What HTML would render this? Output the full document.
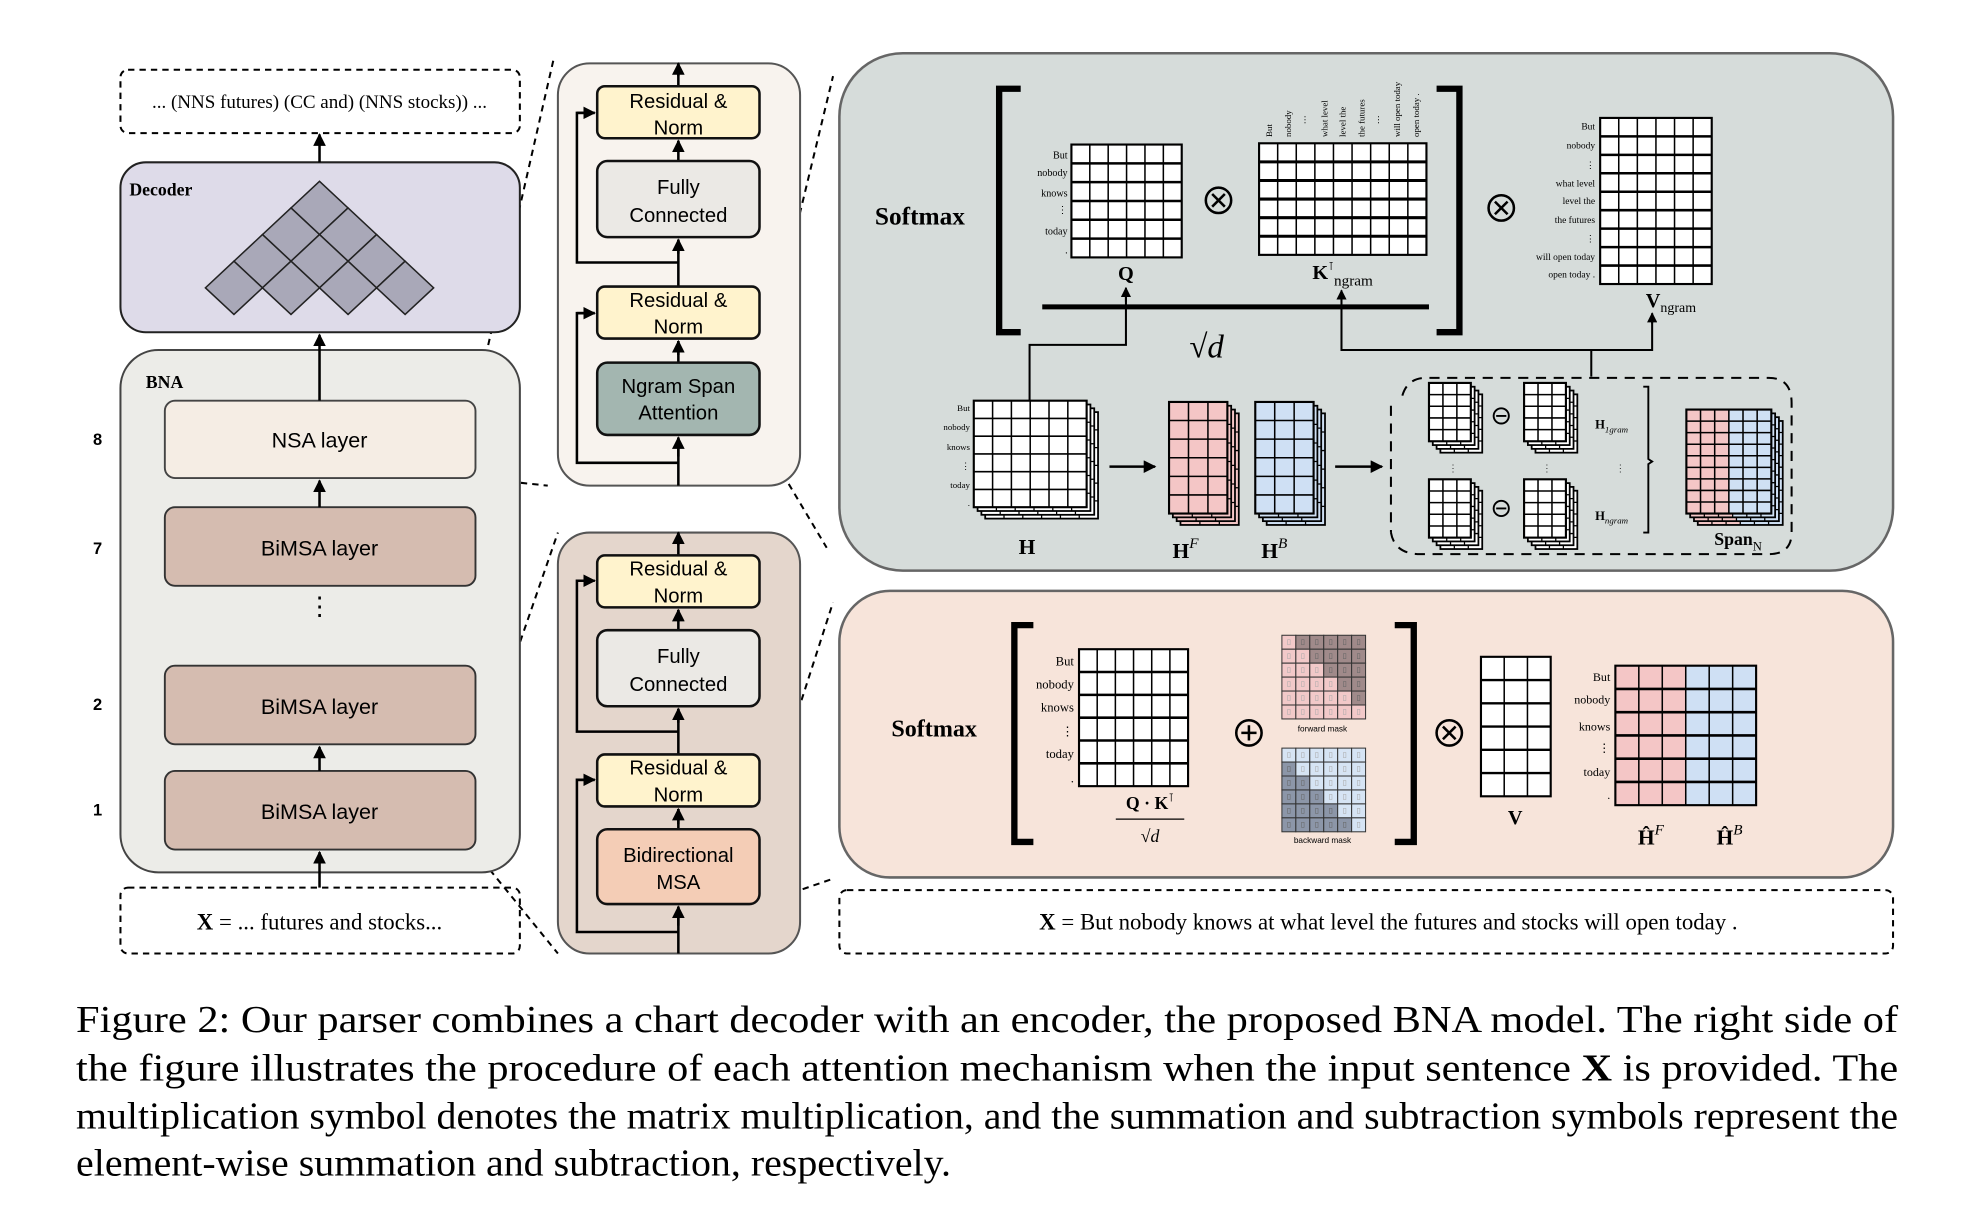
<!DOCTYPE html>
<html><head><meta charset="utf-8"><style>
html,body{margin:0;padding:0;background:#fff;}
svg{display:block;}
.s{font-family:"Liberation Sans",sans-serif;}
.r{font-family:"Liberation Serif",serif;}
</style></head><body>
<svg id="c" width="1978" height="1216" viewBox="0 0 1560 959" preserveAspectRatio="none" xmlns="http://www.w3.org/2000/svg">
<defs>
<marker id="a" viewBox="0 0 10 10" refX="9" refY="5" markerWidth="5" markerHeight="5" orient="auto"><path d="M0,0L10,5L0,10z" fill="#000"/></marker>
</defs>
<rect width="1560" height="959" fill="#fff"/>
<g stroke="#000" stroke-width="1.6" fill="none" stroke-dasharray="5,4">
<line x1="375" y1="316" x2="437" y2="45"/>
<line x1="375" y1="377" x2="432" y2="383"/>
<line x1="375" y1="608" x2="440" y2="420"/>
<line x1="375" y1="672" x2="440" y2="752"/>
<line x1="599" y1="300" x2="657" y2="60"/>
<line x1="599" y1="343" x2="652" y2="432"/>
<line x1="599" y1="655" x2="657" y2="475"/>
<line x1="599" y1="713" x2="657" y2="693"/>
</g>
<!-- left -->
<rect x="95" y="55" width="315" height="50" rx="6" fill="none" stroke="#000" stroke-width="1.6" stroke-dasharray="5,4"/>
<text x="252" y="85" text-anchor="middle" class="r" font-size="15">... (NNS futures) (CC and) (NNS stocks)) ...</text>
<rect x="95" y="128" width="315" height="134" rx="20" fill="#dedbe9" stroke="#222" stroke-width="1.6"/>
<text x="102" y="154" class="r" font-size="14" font-weight="bold">Decoder</text>
<g id="pyr" fill="#a9a8b8" stroke="#222" stroke-width="1.2"></g>
<rect x="95" y="276" width="315" height="412" rx="30" fill="#ecece8" stroke="#444" stroke-width="1.6"/>
<text x="115" y="306" class="r" font-size="14" font-weight="bold">BNA</text>
<rect x="130" y="316" width="245" height="61" rx="8" fill="#f5ede4" stroke="#444" stroke-width="1.5"/>
<text x="252" y="353" text-anchor="middle" class="s" font-size="17">NSA layer</text>
<rect x="130" y="400" width="245" height="62" rx="8" fill="#d5bcb0" stroke="#333" stroke-width="1.5"/>
<text x="252" y="438" text-anchor="middle" class="s" font-size="17">BiMSA layer</text>
<text x="252" y="485" text-anchor="middle" class="s" font-size="20">⋮</text>
<rect x="130" y="525" width="245" height="62" rx="8" fill="#d5bcb0" stroke="#333" stroke-width="1.5"/>
<text x="252" y="563" text-anchor="middle" class="s" font-size="17">BiMSA layer</text>
<rect x="130" y="608" width="245" height="62" rx="8" fill="#d5bcb0" stroke="#333" stroke-width="1.5"/>
<text x="252" y="646" text-anchor="middle" class="s" font-size="17">BiMSA layer</text>
<g class="s" font-size="13" font-weight="bold" text-anchor="middle">
<text x="77" y="351">8</text><text x="77" y="437">7</text><text x="77" y="560">2</text><text x="77" y="643">1</text></g>
<rect x="95" y="700" width="315" height="52" rx="6" fill="none" stroke="#000" stroke-width="1.6" stroke-dasharray="5,4"/>
<text x="252" y="733" text-anchor="middle" class="r" font-size="18"><tspan font-weight="bold">X</tspan> = ... futures and stocks...</text>
<g stroke="#000" stroke-width="2" marker-end="url(#a)">
<line x1="252" y1="128" x2="252" y2="106"/>
<line x1="252" y1="316" x2="252" y2="264"/>
<line x1="252" y1="400" x2="252" y2="379"/>
<line x1="252" y1="608" x2="252" y2="589"/>
<line x1="252" y1="700" x2="252" y2="672"/>
</g>
<!-- middle panels -->
<rect x="440" y="50" width="191" height="333" rx="25" fill="#f8f3ee" stroke="#555" stroke-width="1.6"/>
<rect x="440" y="420" width="191" height="332" rx="25" fill="#e4d6cc" stroke="#555" stroke-width="1.6"/>
<g stroke="#000" stroke-width="2" fill="none">
<path d="M535,383V345M535,286V269M535,226V189M535,127V111M535,68V50"/>
<path d="M535,365H455V247H469M535,207H455V89H469"/>
<path d="M535,752V715M535,654V638M535,595V559M535,497V481M535,438V420"/>
<path d="M535,735H455V615H469M535,577H455V458H469"/>
</g>
<g stroke="#000" stroke-width="2" marker-end="url(#a)">
<line x1="535" y1="360" x2="535" y2="345"/><line x1="535" y1="280" x2="535" y2="269"/><line x1="535" y1="200" x2="535" y2="189"/><line x1="535" y1="120" x2="535" y2="111"/><line x1="535" y1="60" x2="535" y2="50"/>
<line x1="455" y1="247" x2="469" y2="247"/><line x1="455" y1="89" x2="469" y2="89"/>
<line x1="535" y1="730" x2="535" y2="715"/><line x1="535" y1="650" x2="535" y2="638"/><line x1="535" y1="570" x2="535" y2="559"/><line x1="535" y1="490" x2="535" y2="481"/><line x1="535" y1="430" x2="535" y2="420"/>
<line x1="455" y1="615" x2="469" y2="615"/><line x1="455" y1="458" x2="469" y2="458"/>
</g>
<g stroke="#111" stroke-width="2">
<rect x="471" y="68" width="128" height="41" rx="6" fill="#fff3cd"/>
<rect x="471" y="127" width="128" height="60" rx="8" fill="#ebe9e5"/>
<rect x="471" y="226" width="128" height="41" rx="6" fill="#fff3cd"/>
<rect x="471" y="286" width="128" height="57" rx="8" fill="#a3b6b0"/>
<rect x="471" y="438" width="128" height="41" rx="6" fill="#fff3cd"/>
<rect x="471" y="497" width="128" height="60" rx="8" fill="#ebe9e5"/>
<rect x="471" y="595" width="128" height="41" rx="6" fill="#fff3cd"/>
<rect x="471" y="654" width="128" height="59" rx="8" fill="#f4cdb6"/>
</g>
<g class="s" font-size="16" text-anchor="middle">
<text x="535" y="85">Residual &amp;</text><text x="535" y="106">Norm</text>
<text x="535" y="153">Fully</text><text x="535" y="175">Connected</text>
<text x="535" y="242">Residual &amp;</text><text x="535" y="263">Norm</text>
<text x="535" y="310">Ngram Span</text><text x="535" y="331">Attention</text>
<text x="535" y="454">Residual &amp;</text><text x="535" y="475">Norm</text>
<text x="535" y="523">Fully</text><text x="535" y="545">Connected</text>
<text x="535" y="611">Residual &amp;</text><text x="535" y="632">Norm</text>
<text x="535" y="680">Bidirectional</text><text x="535" y="701">MSA</text>
</g>
<!-- right top -->
<rect x="662" y="42" width="831" height="408" rx="50" fill="#d6dcda" stroke="#666" stroke-width="2"/>
<text x="690" y="177" class="r" font-size="20" font-weight="bold">Softmax</text>
<g stroke="#000" stroke-width="5" fill="none">
<path d="M805,70H788V262H805"/><path d="M1133,70H1151V262H1133"/>
<line x1="822" y1="242" x2="1127" y2="242" stroke-width="4"/>
</g>
<text x="938" y="282" class="r" font-size="26"><tspan font-style="normal">√</tspan><tspan font-style="italic">d</tspan></text>
<g id="grids"></g>
<g class="r" font-size="8" text-anchor="end">
<text x="842" y="125">But</text><text x="842" y="139">nobody</text><text x="842" y="155">knows</text><text x="842" y="168">⋮</text><text x="842" y="185">today</text><text x="842" y="200">.</text>
</g>
<text x="888" y="221" class="r" font-size="16" font-weight="bold" text-anchor="middle">Q</text>
<text x="1035" y="220" class="r" font-size="16" font-weight="bold">K<tspan font-size="9" font-weight="normal" dy="-7">⊺</tspan><tspan font-size="12" font-weight="normal" dy="12">ngram</tspan></text>
<g class="r" font-size="7">
<text transform="translate(1003,108) rotate(-90)">But</text>
<text transform="translate(1018,108) rotate(-90)">nobody</text>
<text transform="translate(1031,98) rotate(-90)">⋯</text>
<text transform="translate(1047,108) rotate(-90)">what level</text>
<text transform="translate(1061,108) rotate(-90)">level the</text>
<text transform="translate(1076,108) rotate(-90)">the futures</text>
<text transform="translate(1089,98) rotate(-90)">⋯</text>
<text transform="translate(1104,108) rotate(-90)">will open today</text>
<text transform="translate(1119,108) rotate(-90)">open  today .</text>
</g>
<g class="r" font-size="7.5" text-anchor="end">
<text x="1258" y="102">But</text><text x="1258" y="117">nobody</text><text x="1258" y="133">⋮</text><text x="1258" y="147">what level</text><text x="1258" y="161">level the</text><text x="1258" y="176">the futures</text><text x="1258" y="191">⋮</text><text x="1258" y="205">will open today</text><text x="1258" y="219">open  today .</text>
</g>
<text x="1298" y="242" class="r" font-size="16" font-weight="bold">V<tspan font-size="11" font-weight="normal" dy="4">ngram</tspan></text>
<g fill="none" stroke="#000" stroke-width="2">
<circle cx="961" cy="158" r="10"/><circle cx="1184" cy="164" r="10"/>
<path d="M956,153l10,10M966,153l-10,10M1179,159l10,10M1189,159l-10,10"/>
</g>
<g stroke="#000" stroke-width="1.6" fill="none">
<path d="M812,316V272H888V232"/><path d="M1255,297V276H1058V232M1255,276H1303V252"/>
</g>
<g stroke="#000" stroke-width="1.6" marker-end="url(#a)">
<line x1="888" y1="238" x2="888" y2="227"/><line x1="1058" y1="238" x2="1058" y2="229"/><line x1="1303" y1="255" x2="1303" y2="247"/>
<line x1="875" y1="368" x2="911" y2="368" stroke-width="2"/><line x1="1053" y1="368" x2="1090" y2="368" stroke-width="2"/>
</g>
<g class="r" font-size="7" text-anchor="end">
<text x="765" y="324">But</text><text x="765" y="339">nobody</text><text x="765" y="355">knows</text><text x="765" y="370">⋮</text><text x="765" y="385">today</text><text x="765" y="399">.</text>
</g>
<text x="810" y="437" class="r" font-size="17" font-weight="bold" text-anchor="middle">H</text>
<text x="935" y="440" class="r" font-size="17" font-weight="bold" text-anchor="middle">H<tspan font-size="12" font-style="italic" font-weight="normal" dy="-8">F</tspan></text>
<text x="1005" y="440" class="r" font-size="17" font-weight="bold" text-anchor="middle">H<tspan font-size="12" font-style="italic" font-weight="normal" dy="-8">B</tspan></text>
<path d="M1106,312Q1110,298 1125,298H1395Q1413,298 1413,318V420Q1413,437 1395,437H1120Q1100,437 1097,420" fill="none" stroke="#000" stroke-width="1.6" stroke-dasharray="8,6"/>
<line x1="1097" y1="320" x2="1097" y2="420" stroke="#000" stroke-width="1.6" stroke-dasharray="8,6"/>
<g fill="none" stroke="#000" stroke-width="1.5">
<circle cx="1184" cy="328" r="6"/><circle cx="1184" cy="401" r="6"/>
<path d="M1180,328h8M1180,401h8"/>
<path d="M1296,305H1300V362L1303,364L1300,366V420H1296"/>
</g>
<g class="r" font-size="8" fill="#333" text-anchor="middle"><text x="1146" y="372">⋮</text><text x="1220" y="372">⋮</text><text x="1278" y="372">⋮</text></g>
<text x="1258" y="338" class="r" font-size="10" font-weight="bold">H<tspan font-size="7" font-style="italic" font-weight="normal" dy="3">1gram</tspan></text>
<text x="1258" y="410" class="r" font-size="10" font-weight="bold">H<tspan font-size="7" font-style="italic" font-weight="normal" dy="3">ngram</tspan></text>
<text x="1352" y="430" class="r" font-size="14" font-weight="bold">Span<tspan font-size="10" font-weight="normal" dy="4">N</tspan></text>
<!-- right bottom -->
<rect x="662" y="466" width="831" height="226" rx="40" fill="#f7e4da" stroke="#666" stroke-width="2"/>
<g id="grids2"></g>
<text x="703" y="581" class="r" font-size="19" font-weight="bold">Softmax</text>
<g stroke="#000" stroke-width="5" fill="none">
<path d="M815,493H800V664H815"/><path d="M1100,493H1115V664H1100"/>
</g>
<g class="r" font-size="10" text-anchor="end">
<text x="847" y="525">But</text><text x="847" y="543">nobody</text><text x="847" y="561">knows</text><text x="847" y="580">⋮</text><text x="847" y="598">today</text><text x="847" y="617">.</text>
</g>
<text x="907" y="638" class="r" font-size="14" font-weight="bold" text-anchor="middle">Q · K<tspan font-size="9" font-weight="normal" dy="-6">⊺</tspan></text>
<line x1="880" y1="646" x2="934" y2="646" stroke="#000" stroke-width="1"/>
<text x="907" y="664" class="r" font-size="14" text-anchor="middle">√<tspan font-style="italic">d</tspan></text>
<g fill="none" stroke="#000" stroke-width="2">
<circle cx="985" cy="578" r="10"/><path d="M979,578h12M985,572v12"/>
<circle cx="1143" cy="578" r="10"/><path d="M1138,573l10,10M1148,573l-10,10"/>
</g>
<text x="1043" y="577" class="s" font-size="6.5" text-anchor="middle">forward mask</text>
<text x="1043" y="665" class="s" font-size="6.5" text-anchor="middle">backward mask</text>
<text x="1195" y="650" class="r" font-size="16" font-weight="bold" text-anchor="middle">V</text>
<g class="r" font-size="9.5" text-anchor="end">
<text x="1270" y="537">But</text><text x="1270" y="555">nobody</text><text x="1270" y="576">knows</text><text x="1270" y="593">⋮</text><text x="1270" y="612">today</text><text x="1270" y="630">.</text>
</g>
<text x="1302" y="666" class="r" font-size="17" font-weight="bold" text-anchor="middle">Ĥ<tspan font-size="12" font-style="italic" font-weight="normal" dy="-8">F</tspan></text>
<text x="1364" y="666" class="r" font-size="17" font-weight="bold" text-anchor="middle">Ĥ<tspan font-size="12" font-style="italic" font-weight="normal" dy="-8">B</tspan></text>
<rect x="662" y="702" width="831" height="50" rx="6" fill="none" stroke="#000" stroke-width="1.6" stroke-dasharray="5,4"/>
<text x="1095" y="733" text-anchor="middle" class="r" font-size="18"><tspan font-weight="bold">X</tspan> = But nobody knows at what level the futures and stocks will  open  today .</text>
<!-- caption -->
<g class="r" font-size="30">
<text x="60" y="814" textLength="1437" lengthAdjust="spacingAndGlyphs">Figure 2:  Our parser combines a chart decoder with an encoder, the proposed BNA model.  The right side of</text>
<text x="60" y="852" textLength="1437" lengthAdjust="spacingAndGlyphs">the figure illustrates the procedure of each attention mechanism when the input sentence <tspan font-weight="bold">X</tspan> is provided.  The</text>
<text x="60" y="890" textLength="1437" lengthAdjust="spacingAndGlyphs">multiplication symbol denotes the matrix multiplication, and the summation and subtraction symbols represent the</text>
<text x="60" y="927" textLength="690" lengthAdjust="spacingAndGlyphs">element-wise summation and subtraction, respectively.</text>
</g>
</svg>
<script>
var NS="http://www.w3.org/2000/svg",G=document.getElementById("grids");
function el(t,a,p){var e=document.createElementNS(NS,t);for(var k in a)e.setAttribute(k,a[k]);(p||G).appendChild(e);return e;}
function grid(x,y,w,h,c,r,fills,sw,hsw){
 sw=sw||1.2;var cw=w/c,rh=h/r;
 for(var i=0;i<c;i++){var f=typeof fills=="string"?fills:(fills?fills[i]:"#fff");el("rect",{x:x+i*cw,y:y,width:cw,height:h,fill:f});}
 var d="";for(var i=1;i<c;i++)d+="M"+(x+i*cw)+","+y+"v"+h;
 el("path",{d:d,stroke:"#000","stroke-width":sw,fill:"none"});
 d="";for(var j=1;j<r;j++)d+="M"+x+","+(y+j*rh)+"h"+w;
 el("path",{d:d,stroke:"#000","stroke-width":hsw||sw,fill:"none"});
 el("rect",{x:x,y:y,width:w,height:h,fill:"none",stroke:"#000","stroke-width":sw*1.4});
}
function stack(x,y,w,h,c,r,fills,n,o){for(var k=n;k>=1;k--)grid(x+k*o,y+k*o,w,h,c,r,fills,1);grid(x,y,w,h,c,r,fills,1.2);}
var P=document.getElementById("pyr"),hw=22.5,hh=21;
for(var row=0;row<4;row++)for(var i=0;i<=row;i++){var cx=252+(i*2-row)*hw,cy=143+row*hh;
 el("path",{d:"M"+cx+","+cy+"l"+hw+","+hh+"l"+(-hw)+","+hh+"l"+(-hw)+","+(-hh)+"z"},P);}
grid(845,114,87,89,6,6,"#fff",1.2,2);
grid(993,113,132,88,9,6,"#fff",1.2,2.4);
grid(1262,93,88,131,6,9,"#fff",1.2,2);
stack(768,316,89,84,6,6,"#fff",3,3);
stack(922,317,46,88,3,6,"#f4c6c6",3,3);
stack(990,317,46,88,3,6,"#cfe0f4",3,3);
var PB=["#f4c6c6","#f4c6c6","#f4c6c6","#cfe0f4","#cfe0f4","#cfe0f4"];
[[1127,302],[1202,302],[1127,378],[1202,378]].forEach(function(p){stack(p[0],p[1],33,46,3,5,"#fff",3,3);});
stack(1330,323,67,82,6,9,PB,3,3);
G=document.getElementById("grids2");
grid(851,512,86,108,6,6,"#fff",1.2,2);
function mask(x,y,fwd){var s=11;for(var r=0;r<6;r++)for(var c=0;c<6;c++){var m=fwd?c>r:c<r;
 var f=fwd?(m?"#a08a8a":"#f2c9c9"):(m?"#8c96a8":"#d6e4f4");el("rect",{x:x+c*s,y:y+r*s,width:s,height:s,fill:f,stroke:"#333","stroke-width":0.8});
 el("rect",{x:x+c*s+4.5,y:y+r*s+3.5,width:2,height:4,fill:"none",stroke:m?"#666":"#aaa","stroke-width":0.4});}}
mask(1011,501,true);mask(1011,590,false);
grid(1168,518,55,110,3,6,"#fff",1.2,1.8);
grid(1274,525,111,110,6,6,PB,1.2,2);
</script>
</body></html>
